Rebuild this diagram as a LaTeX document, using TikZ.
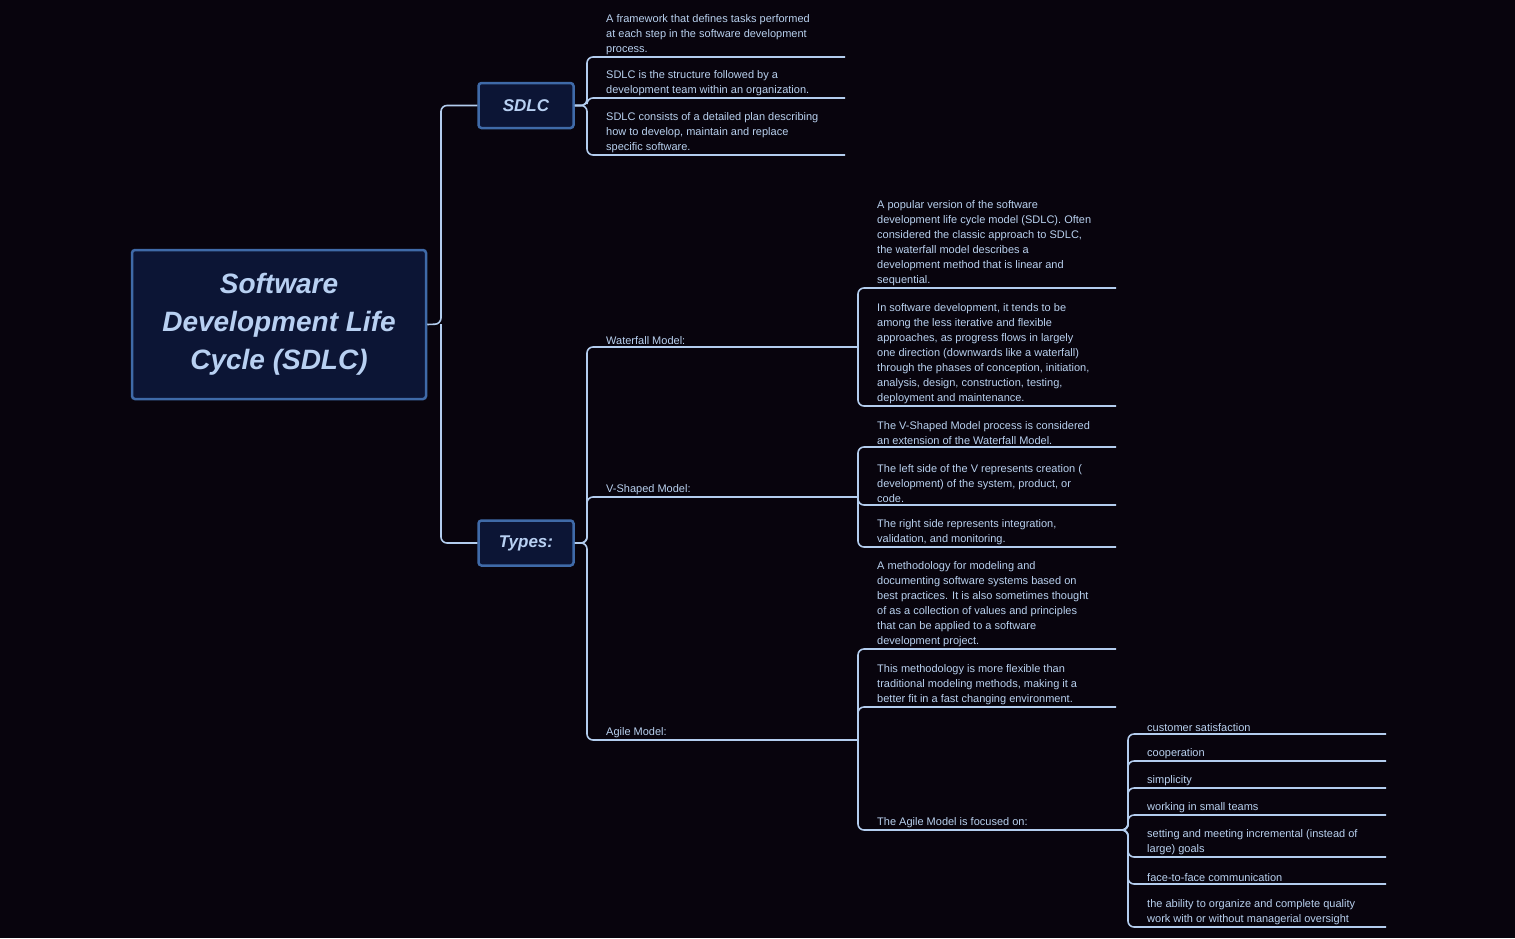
\documentclass[tikz,border=0pt]{standalone}
\usepackage{fontspec}
\setmainfont{Liberation Sans}
\definecolor{bg}{HTML}{08040D}
\definecolor{ln}{HTML}{B3CDEE}
\definecolor{nf}{HTML}{0C1535}
\definecolor{nb}{HTML}{3F6AA8}
\definecolor{nt}{HTML}{B8D0F2}
\tikzset{
 leaftext/.style={text=ln!92!white, font=\fontsize{11}{15}\selectfont, align=left, inner sep=0pt, anchor=south west},
 conn/.style={draw=ln, line width=1.6pt, rounded corners=6pt},
 topic/.style={draw=nb, line width=2.5pt, fill=nf, rounded corners=3pt, text=nt, font=\bfseries\itshape},
}
\newcommand\leaf[4]{% name, x0, yline, text
 \node[leaftext] (#1) at (#2+19,#3-2) {#4};
 \coordinate (#1s) at (#2,#3); \coordinate (#1e) at (#2+258,#3);}
\begin{document}
\begin{tikzpicture}[x=1pt,y=-1pt]
\fill[bg] (0,0) rectangle (1515,938);
\useasboundingbox (0,0) rectangle (1515,938);
\node[topic, minimum width=294, minimum height=149, font=\fontsize{28}{38}\selectfont\bfseries\itshape, align=center] (root) at (279,324.5) {Software\\Development Life\\Cycle (SDLC)};
\node[topic, minimum width=95, minimum height=45, font=\fontsize{17}{20}\selectfont\bfseries\itshape] (sdlc) at (526,105.5) {SDLC};
\node[topic, minimum width=95, minimum height=45, font=\fontsize{17}{20}\selectfont\bfseries\itshape] (types) at (526,543) {Types:};
\coordinate (trunk) at (441,324);
\draw[conn] (root.east) -- (trunk) |- (sdlc.west);
\draw[conn] (trunk) |- (types.west);
% SDLC leaves
\leaf{a1}{587}{57}{A framework that defines tasks performed\\at each step in the software development\\process.}
\leaf{a2}{587}{98}{SDLC is the structure followed by a\\development team within an organization.}
\leaf{a3}{587}{155}{SDLC consists of a detailed plan describing\\how to develop, maintain and replace\\specific software.}
\foreach \c in {a1,a2,a3}{\draw[conn] (sdlc.east) -- (sdlc.east -| \c s) |- (\c e);}
% types
\leaf{w}{587}{347}{Waterfall Model:}
\coordinate (we) at (858,347);
\leaf{v}{587}{497}{V-Shaped Model:}
\coordinate (ve) at (858,497);
\leaf{g}{587}{740}{Agile Model:}
\coordinate (ge) at (858,740);
\foreach \c in {w,v,g}{\draw[conn] (types.east) -- (types.east -| \c s) |- (\c e);}
% waterfall
\leaf{w1}{858}{288}{A popular version of the software\\development life cycle model (SDLC). Often\\considered the classic approach to SDLC,\\the waterfall model describes a\\development method that is linear and\\sequential.}
\leaf{w2}{858}{406}{In software development, it tends to be\\among the less iterative and flexible\\approaches, as progress flows in largely\\one direction (downwards like a waterfall)\\through the phases of conception, initiation,\\analysis, design, construction, testing,\\deployment and maintenance.}
\foreach \c in {w1,w2}{\draw[conn] (we) |- (\c e);}
% v-shaped
\leaf{v1}{858}{447}{The V-Shaped Model process is considered\\an extension of the Waterfall Model.}
\leaf{v2}{858}{505}{The left side of the V represents creation (\\development) of the system, product, or\\code.}
\leaf{v3}{858}{547}{The right side represents integration,\\validation, and monitoring.}
\foreach \c in {v1,v2,v3}{\draw[conn] (ve) |- (\c e);}
% agile
\leaf{g1}{858}{649}{A methodology for modeling and\\documenting software systems based on\\best practices. It is also sometimes thought\\of as a collection of values and principles\\that can be applied to a software\\development project.}
\leaf{g2}{858}{707}{This methodology is more flexible than\\traditional modeling methods, making it a\\better fit in a fast changing environment.}
\leaf{g3}{858}{830}{The Agile Model is focused on:}
\foreach \c in {g1,g2,g3}{\draw[conn] (ge) |- (\c e);}
% focus
\leaf{f1}{1128}{734}{customer satisfaction}
\leaf{f2}{1128}{761}{cooperation}
\leaf{f3}{1128}{788}{simplicity}
\leaf{f4}{1128}{815}{working in small teams}
\leaf{f5}{1128}{857}{setting and meeting incremental (instead of\\large) goals}
\leaf{f6}{1128}{884}{face-to-face communication}
\leaf{f7}{1128}{927}{the ability to organize and complete quality\\work with or without managerial oversight}
\foreach \c in {f1,f2,f3,f4,f5,f6,f7}{\draw[conn] (g3e) -- (g3e -| \c s) |- (\c e);}
\end{tikzpicture}
\end{document}
